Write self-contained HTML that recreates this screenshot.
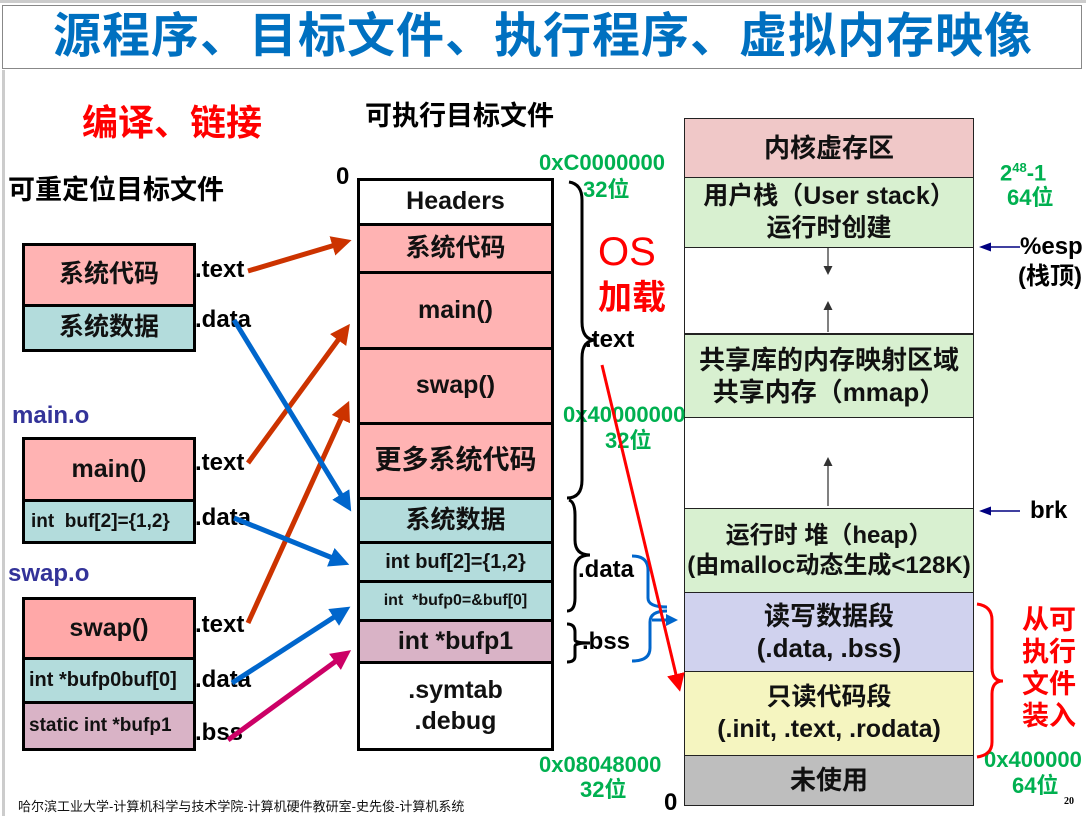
<!DOCTYPE html>
<html><head><meta charset="utf-8"><style>
body{margin:0;width:1086px;height:816px;overflow:hidden;background:#fff;position:relative;font-family:"Liberation Sans","Noto Sans CJK SC",sans-serif;}
.a{position:absolute;white-space:nowrap;font-weight:bold;line-height:1;}
.b{position:absolute;box-sizing:border-box;display:flex;align-items:center;justify-content:center;text-align:center;font-weight:bold;color:#111;line-height:1.25;white-space:nowrap;}
.L{border:3px solid #000;left:22px;width:174px;font-size:25px;}
.M{border:3px solid #000;left:357px;width:197px;font-size:25px;}
.R{border:1.5px solid #222;left:684px;width:290px;font-size:26px;}
.g{color:#00B050;font-size:22px;}
.t{font-size:24px;}
</style></head><body>
<div style="position:absolute;left:0;top:0;width:1086px;height:3px;background:#ccc"></div>
<div style="position:absolute;left:2px;top:5px;width:1080px;height:64px;border:1.5px solid #888;box-sizing:border-box"></div>
<div style="position:absolute;left:2px;top:70px;width:3px;height:746px;background:#ccc"></div>
<div class="a" style="left:0;width:1086px;text-align:center;top:13px;font-size:48px;color:#0070C0;letter-spacing:1px">源程序、目标文件、执行程序、虚拟内存映像</div>

<div class="a" style="left:82px;top:105px;font-size:36px;color:#FF0000">编译、链接</div>
<div class="a" style="left:365px;top:103px;font-size:27px">可执行目标文件</div>
<div class="a" style="left:8px;top:177px;font-size:27px">可重定位目标文件</div>
<div class="a" style="left:12px;top:404px;font-size:24px;color:#333399">main.o</div>
<div class="a" style="left:8px;top:562px;font-size:24px;color:#333399">swap.o</div>

<div class="b L" style="top:243px;height:64px;background:#FFB3B3">系统代码</div>
<div class="b L" style="top:304px;height:48px;background:#B3DCDC">系统数据</div>
<div class="b L" style="top:437px;height:65px;background:#FFB3B3">main()</div>
<div class="b L" style="top:499px;height:45px;background:#B3DCDC;font-size:19px;justify-content:flex-start;padding-left:6px">int&nbsp; buf[2]={1,2}</div>
<div class="b L" style="top:597px;height:63px;background:#FFA8A8">swap()</div>
<div class="b L" style="top:657px;height:47px;background:#B3DCDC;font-size:20px;justify-content:flex-start;padding-left:4px">int *bufp0buf[0]</div>
<div class="b L" style="top:701px;height:50px;background:#D9B3C6;font-size:19px;justify-content:flex-start;padding-left:4px">static int *bufp1</div>

<div class="a t" style="left:195px;top:258px">.text</div>
<div class="a t" style="left:195px;top:308px">.data</div>
<div class="a t" style="left:195px;top:451px">.text</div>
<div class="a t" style="left:195px;top:506px">.data</div>
<div class="a t" style="left:195px;top:613px">.text</div>
<div class="a t" style="left:195px;top:668px">.data</div>
<div class="a t" style="left:195px;top:721px">.bss</div>

<div class="a" style="left:336px;top:165px;font-size:24px">0</div>
<div class="b M" style="top:178px;height:48px;background:#fff">Headers</div>
<div class="b M" style="top:223px;height:51px;background:#FFB3B3">系统代码</div>
<div class="b M" style="top:271px;height:79px;background:#FFB3B3">main()</div>
<div class="b M" style="top:347px;height:78px;background:#FFB3B3">swap()</div>
<div class="b M" style="top:422px;height:78px;background:#FFB3B3;font-size:27px">更多系统代码</div>
<div class="b M" style="top:497px;height:47px;background:#B3DCDC">系统数据</div>
<div class="b M" style="top:541px;height:42px;background:#B3DCDC;font-size:20px">int buf[2]={1,2}</div>
<div class="b M" style="top:580px;height:42px;background:#B3DCDC;font-size:16px">int&nbsp; *bufp0=&amp;buf[0]</div>
<div class="b M" style="top:619px;height:45px;background:#D9B3C6">int *bufp1</div>
<div class="b M" style="top:661px;height:90px;background:#fff">.symtab<br>.debug</div>

<div class="a t" style="left:585px;top:328px">.text</div>
<div class="a t" style="left:578px;top:558px">.data</div>
<div class="a t" style="left:582px;top:630px">.bss</div>

<div class="b R" style="top:118px;height:60px;background:#F0C8C8">内核虚存区</div>
<div class="b R" style="top:177px;height:71px;background:#D8F0D0;font-size:25px">用户栈（User stack）<br>运行时创建</div>
<div class="b R" style="top:247px;height:87px;background:#fff"></div>
<div class="b R" style="top:333px;height:85px;background:#D8F0D0;border-top:2px solid #222;font-size:26px">共享库的内存映射区域<br>共享内存（mmap）</div>
<div class="b R" style="top:417px;height:92px;background:#fff"></div>
<div class="b R" style="top:508px;height:85px;background:#D8F0D0;font-size:24px;overflow:visible">运行时 堆（heap）<br>(由malloc动态生成&lt;128K)</div>
<div class="b R" style="top:592px;height:80px;background:#D0D2EE">读写数据段<br>(.data, .bss)</div>
<div class="b R" style="top:671px;height:85px;background:#F5F5C0;font-size:25px">只读代码段<br>(.init, .text, .rodata)</div>
<div class="b R" style="top:755px;height:51px;background:#BEBEBE">未使用</div>

<div class="a g" style="left:539px;top:152px">0xC0000000</div>
<div class="a g" style="left:583px;top:179px">32位</div>
<div class="a g" style="left:563px;top:404px">0x40000000</div>
<div class="a g" style="left:605px;top:430px">32位</div>
<div class="a g" style="left:539px;top:754px">0x08048000</div>
<div class="a g" style="left:580px;top:779px">32位</div>
<div class="a g" style="left:1000px;top:161px">2<sup style="font-size:13px">48</sup>-1</div>
<div class="a g" style="left:1007px;top:187px">64位</div>
<div class="a g" style="left:984px;top:749px">0x400000</div>
<div class="a g" style="left:1012px;top:775px">64位</div>

<div class="a" style="left:598px;top:232px;font-size:40px;font-weight:normal;color:#FF0000">OS</div>
<div class="a" style="left:598px;top:281px;font-size:34px;color:#FF0000">加载</div>
<div class="a" style="left:1020px;top:235px;font-size:24px">%esp</div>
<div class="a" style="left:1018px;top:265px;font-size:24px">(栈顶)</div>
<div class="a" style="left:1030px;top:499px;font-size:24px">brk</div>
<div class="a" style="left:1022px;top:604px;font-size:27px;color:#FF0000;line-height:32px">从可<br>执行<br>文件<br>装入</div>

<div class="a" style="left:664px;top:791px;font-size:24px">0</div>
<div style="position:absolute;left:18px;top:796px;font-size:13px;color:#111">哈尔滨工业大学-计算机科学与技术学院-计算机硬件教研室-史先俊-计算机系统</div>
<div style="position:absolute;left:1064px;top:796px;font-size:10px;font-family:'Liberation Serif',serif;font-weight:bold">20</div>

<svg style="position:absolute;left:0;top:0" width="1086" height="816">
<defs>
<marker id="r" markerWidth="4" markerHeight="4" refX="2" refY="2" orient="auto" markerUnits="strokeWidth"><path d="M0,0L4,2L0,4z" fill="#CC3300"/></marker>
<marker id="bl" markerWidth="4" markerHeight="4" refX="2" refY="2" orient="auto" markerUnits="strokeWidth"><path d="M0,0L4,2L0,4z" fill="#0066CC"/></marker>
<marker id="m" markerWidth="4" markerHeight="4" refX="2" refY="2" orient="auto" markerUnits="strokeWidth"><path d="M0,0L4,2L0,4z" fill="#CC0066"/></marker>
<marker id="rr" markerWidth="6" markerHeight="6" refX="3" refY="3" orient="auto" markerUnits="strokeWidth"><path d="M0,0L6,3L0,6z" fill="#FF0000"/></marker>
<marker id="k" markerWidth="8" markerHeight="8" refX="6" refY="4" orient="auto" markerUnits="strokeWidth"><path d="M0,1L8,4L0,7z" fill="#000080"/></marker>
<marker id="gk" markerWidth="6" markerHeight="6" refX="4" refY="3" orient="auto" markerUnits="strokeWidth"><path d="M0,0L6,3L0,6z" fill="#333"/></marker>
</defs>
<g stroke-width="5" fill="none">
<line x1="248" y1="271" x2="342" y2="243" stroke="#CC3300" marker-end="url(#r)"/>
<line x1="248" y1="463" x2="344" y2="332" stroke="#CC3300" marker-end="url(#r)"/>
<line x1="248" y1="623" x2="345" y2="410" stroke="#CC3300" marker-end="url(#r)"/>
<line x1="234" y1="320" x2="346" y2="503" stroke="#0066CC" marker-end="url(#bl)"/>
<line x1="234" y1="518" x2="340" y2="561" stroke="#0066CC" marker-end="url(#bl)"/>
<line x1="232" y1="683" x2="342" y2="612" stroke="#0066CC" marker-end="url(#bl)"/>
<line x1="228" y1="740" x2="343" y2="656" stroke="#CC0066" marker-end="url(#m)"/>
</g>
<g stroke="#000" stroke-width="3" fill="none">
<path d="M569,182 Q582,184 582,200 L582,322 Q582,340 596,340 Q582,340 582,358 L582,480 Q582,498 567,498"/>
<path d="M569,500 Q575,502 575,515 L575,540 Q575,555 590,555 Q575,555 575,570 L575,598 Q575,611 567,611"/>
<path d="M567,624 Q575,624 575,632 L575,640 Q575,643 590,643 Q575,643 575,646 L575,656 Q575,662 567,662"/>
</g>
<g stroke="#0066CC" stroke-width="3" fill="none">
<path d="M632,556 Q648,556 648,570 L648,598 Q648,607 667,607"/>
<path d="M667,611 Q650,611 650,622 L650,648 Q650,661 632,661"/>
</g>
<line x1="652" y1="620" x2="672" y2="620" stroke="#0066CC" stroke-width="3" marker-end="url(#bl)"/>
<line x1="602" y1="365" x2="678" y2="683" stroke="#FF0000" stroke-width="3" marker-end="url(#rr)"/>
<path d="M977,604 Q992,606 992,620 L992,668 Q992,681 1003,681 Q992,681 992,694 L992,742 Q992,755 977,757" stroke="#FF0000" stroke-width="3" fill="none"/>
<line x1="1020" y1="247" x2="982" y2="247" stroke="#000080" stroke-width="1.5" marker-end="url(#k)"/>
<line x1="1020" y1="511" x2="982" y2="511" stroke="#000080" stroke-width="1.5" marker-end="url(#k)"/>
<g stroke="#555" stroke-width="1.5">
<line x1="828" y1="248" x2="828" y2="272" marker-end="url(#gk)"/>
<line x1="828" y1="332" x2="828" y2="304" marker-end="url(#gk)"/>
<line x1="828" y1="506" x2="828" y2="460" marker-end="url(#gk)"/>
</g>
</svg>
</body></html>
